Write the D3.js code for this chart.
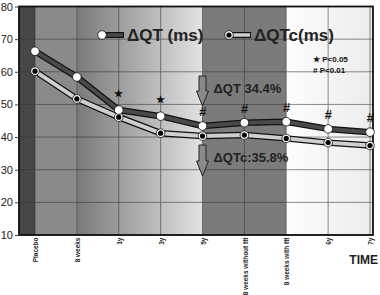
<!DOCTYPE html>
<html>
<head>
<meta charset="utf-8">
<script src="https://cdn.jsdelivr.net/npm/d3@7"></script>
<style>
  body { margin: 0; background: #fff; }
  svg { font-family: "Liberation Sans", Arial, sans-serif; }
</style>
</head>
<body>
<div id="chart"></div>
<script>
const categories = ["Placebo", "8 weeks", "1y", "3y", "5y", "8 weeks without ttt", "8 weeks with ttt", "6y", "7y"];
const qtValues = [66.3, 58.4, 48.3, 46.4, 43.4, 44.4, 44.7, 42.5, 41.5];
const qtcValues = [60.2, 51.7, 46.1, 41.2, 40.3, 40.6, 39.6, 38.3, 37.4];
const significance = ["", "", "*", "*", "#", "#", "#", "#", "#"];
const yTicks = [10, 20, 30, 40, 50, 60, 70, 80];

const width = 380, height = 295;
const plot = { left: 19, right: 373, top: 6.5, bottom: 235 };

const svg = d3.select("#chart").append("svg")
    .attr("width", width)
    .attr("height", height);

const x = d3.scalePoint()
    .domain(categories)
    .range([35, 370]);

const y = d3.scaleLinear()
    .domain([10, 80])
    .range([plot.bottom, plot.top]);

// background gradients
const defs = svg.append("defs");
const g1 = defs.append("linearGradient").attr("id", "grad1");
g1.append("stop").attr("offset", "0%").attr("stop-color", "#7a7a7a");
g1.append("stop").attr("offset", "100%").attr("stop-color", "#e2e2e2");
const g2 = defs.append("linearGradient").attr("id", "grad2");
g2.append("stop").attr("offset", "0%").attr("stop-color", "#fdfdfd");
g2.append("stop").attr("offset", "100%").attr("stop-color", "#ececec");

const bands = [
    { x0: plot.left, x1: x("Placebo"), fill: "#474747" },
    { x0: x("Placebo"), x1: x("8 weeks"), fill: "#8a8a8a" },
    { x0: x("8 weeks"), x1: x("5y"), fill: "url(#grad1)" },
    { x0: x("5y"), x1: x("8 weeks with ttt"), fill: "#7b7b7b" },
    { x0: x("8 weeks with ttt"), x1: plot.right, fill: "url(#grad2)" }
];
svg.append("g").selectAll("rect")
    .data(bands)
    .enter().append("rect")
    .attr("x", d => d.x0)
    .attr("y", plot.top)
    .attr("width", d => d.x1 - d.x0)
    .attr("height", plot.bottom - plot.top)
    .attr("fill", d => d.fill);

// grid
const grid = svg.append("g").attr("stroke", "#333").attr("stroke-width", 0.8).attr("opacity", 0.7);
grid.selectAll(".h").data(yTicks).enter().append("line")
    .attr("x1", plot.left).attr("x2", plot.right)
    .attr("y1", d => y(d)).attr("y2", d => y(d));
grid.selectAll(".v").data(categories).enter().append("line")
    .attr("x1", d => x(d)).attr("x2", d => x(d))
    .attr("y1", plot.top).attr("y2", plot.bottom);

// frame
svg.append("rect")
    .attr("x", plot.left).attr("y", plot.top)
    .attr("width", plot.right - plot.left)
    .attr("height", plot.bottom - plot.top)
    .attr("fill", "none")
    .attr("stroke", "#111")
    .attr("stroke-width", 1.8);

// y axis
const yAxis = svg.append("g")
    .attr("transform", "translate(" + plot.left + ",0)")
    .call(d3.axisLeft(y).tickValues(yTicks).tickSize(4).tickPadding(2));
yAxis.select(".domain").remove();
yAxis.selectAll("text").attr("font-size", 11).attr("fill", "#222").attr("font-family", "Liberation Sans, Arial");
yAxis.selectAll("line").attr("stroke", "#444");

// x axis
const xAxis = svg.append("g")
    .attr("transform", "translate(0," + plot.bottom + ")")
    .call(d3.axisBottom(x).tickSize(0).tickPadding(0));
xAxis.select(".domain").remove();
xAxis.selectAll("text")
    .attr("font-size", 7.5)
    .attr("font-weight", "bold")
    .attr("fill", "#222")
    .attr("font-family", "Liberation Sans, Arial")
    .attr("transform", "rotate(-90) scale(0.86,1)")
    .attr("text-anchor", "end")
    .attr("dy", "0.35em")
    .attr("x", -3)
    .attr("y", 0);

svg.append("text")
    .attr("x", 378).attr("y", 264)
    .attr("text-anchor", "end")
    .attr("font-size", 12).attr("font-weight", "bold")
    .attr("fill", "#222")
    .text("TIME");

// lines
const line = d3.line()
    .x((d, i) => x(categories[i]))
    .y(d => y(d));

function drawSeries(values, fill, markerType) {
    const g = svg.append("g");
    g.append("path").datum(values)
        .attr("d", line)
        .attr("fill", "none")
        .attr("stroke", "#111")
        .attr("stroke-width", 6.5)
        .attr("stroke-linejoin", "round");
    g.append("path").datum(values)
        .attr("d", line)
        .attr("fill", "none")
        .attr("stroke", fill)
        .attr("stroke-width", 4)
        .attr("stroke-linejoin", "round");
    const pts = g.selectAll("g.pt").data(values).enter().append("g")
        .attr("transform", (d, i) => "translate(" + x(categories[i]) + "," + y(d) + ")");
    pts.append("circle").attr("r", 4.3).attr("fill", "#fff").attr("stroke", "#111").attr("stroke-width", 0.8);
    if (markerType === "filled") {
        pts.append("circle").attr("r", 2.6).attr("fill", "#000");
    }
}
drawSeries(qtcValues, "#cfcfcf", "filled");
drawSeries(qtValues, "#4a4a4a", "open");

// significance marks
svg.append("g").selectAll("text")
    .data(significance)
    .enter().append("text")
    .attr("x", (d, i) => x(categories[i]))
    .attr("y", (d, i) => y(qtValues[i]) - (d === "*" ? 13 : 10))
    .attr("text-anchor", "middle")
    .attr("font-size", d => d === "*" ? 10 : 13)
    .attr("font-weight", "bold")
    .attr("font-style", d => d === "#" ? "italic" : "normal")
    .attr("fill", "#111")
    .text(d => d === "*" ? "\u2605" : d);

// legend
const legend = [
    { x: 102, text: "\u0394QT (ms)", fill: "#4a4a4a", filled: false },
    { x: 229, text: "\u0394QTc(ms)", fill: "#cfcfcf", filled: true }
];
const lg = svg.append("g").selectAll("g").data(legend).enter().append("g")
    .attr("transform", d => "translate(" + d.x + ",35)");
lg.append("line").attr("x1", 0).attr("x2", 22).attr("stroke", "#111").attr("stroke-width", 6);
lg.append("line").attr("x1", 0).attr("x2", 21).attr("stroke", d => d.fill).attr("stroke-width", 3.5);
lg.append("circle").attr("r", 4.3).attr("fill", "#fff").attr("stroke", "#111").attr("stroke-width", 0.8);
lg.filter(d => d.filled).append("circle").attr("r", 2.6).attr("fill", "#000");
lg.append("text")
    .attr("x", 25).attr("y", 6)
    .attr("font-size", 17).attr("font-weight", "bold")
    .attr("fill", "#222")
    .text(d => d.text);

// P legend
const pl = svg.append("g").attr("font-size", 8).attr("font-weight", "bold").attr("fill", "#111");
pl.append("text").attr("x", 313).attr("y", 62).text("\u2605 P<0.05");
pl.append("text").attr("x", 313).attr("y", 73).text("# P<0.01");

// arrows
function arrow(xc, yTop, yTip) {
    const headY = yTip - 15;
    const p = d3.path();
    p.moveTo(xc - 3.5, yTop);
    p.lineTo(xc + 3.5, yTop);
    p.lineTo(xc + 3.5, headY);
    p.lineTo(xc + 6, headY);
    p.lineTo(xc, yTip);
    p.lineTo(xc - 6, headY);
    p.lineTo(xc - 3.5, headY);
    p.closePath();
    svg.append("path").attr("d", p.toString())
        .attr("fill", "#8a8a8a").attr("stroke", "#222").attr("stroke-width", 1);
}
const xa = x("5y");
arrow(xa, 76, 106);
arrow(xa, 145, 176);
svg.append("text").attr("x", xa + 11).attr("y", 93)
    .attr("font-size", 13).attr("font-weight", "bold").attr("fill", "#222")
    .text("\u0394QT 34.4%");
svg.append("text").attr("x", xa + 11).attr("y", 162)
    .attr("font-size", 13).attr("font-weight", "bold").attr("fill", "#222")
    .text("\u0394QTc:35.8%");
</script>
</body>
</html>
